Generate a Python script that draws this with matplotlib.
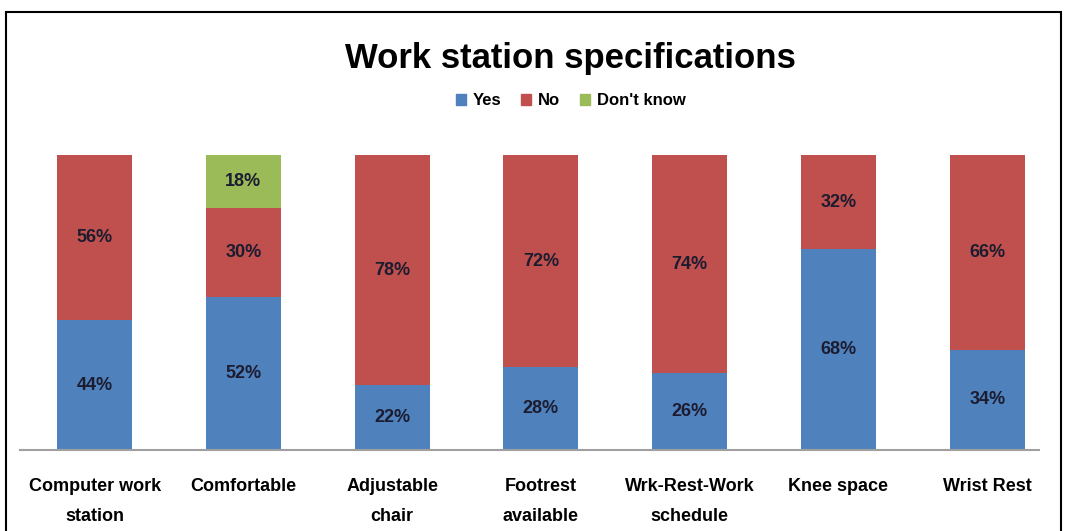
import matplotlib.pyplot as plt
from matplotlib.patches import Rectangle, Patch
import numpy as np

plt.rcParams['font.family'] = ['Liberation Sans', 'DejaVu Sans']

categories = ['Computer work\nstation', 'Comfortable', 'Adjustable\nchair', 'Footrest\navailable',
              'Wrk-Rest-Work\nschedule', 'Knee space', 'Wrist Rest']
yes = [44, 52, 22, 28, 26, 68, 34]
no = [56, 30, 78, 72, 74, 32, 66]
dont_know = [0, 18, 0, 0, 0, 0, 0]

series = [('Yes', yes, '#4F81BD'), ('No', no, '#C0504D'), ("Don't know", dont_know, '#9BBB59')]

fig = plt.figure(figsize=(10.67, 5.31), dpi=100)
ax = fig.add_axes([0.019, 0.1525, 0.955, 0.5556])

x = np.arange(len(categories))
bottom = np.zeros(len(categories))
for name, vals, color in series:
    vals = np.array(vals, dtype=float)
    bars = ax.bar(x, vals, 0.505, bottom=bottom, color=color, label=name)
    for b, v, b0 in zip(bars, vals, bottom):
        if v > 0:
            ax.text(b.get_x() + b.get_width() / 2, b0 + v / 2, f'{int(v)}%',
                    ha='center', va='center', fontsize=13, fontweight='bold', color='#1c1c30')
    bottom += vals

ax.set_xlim(-0.5, 6.35)
ax.set_ylim(0, 100)
ax.set_xticks(x)
ax.set_xticklabels(categories, fontsize=13, fontweight='bold', linespacing=2.0, va='top')
ax.tick_params(axis='x', length=0, pad=20)
ax.set_yticks([])
for side in ['top', 'right', 'left']:
    ax.spines[side].set_visible(False)
ax.spines['bottom'].set_color('#a0a0a0')
ax.spines['bottom'].set_linewidth(1.5)

fig.text(0.535, 0.89, 'Work station specifications', ha='center', va='center',
         fontsize=25, fontweight='bold')
handles = [Patch(color=c, label=n) for n, _, c in series]
fig.legend(handles=handles, loc='center', bbox_to_anchor=(0.535, 0.81), ncol=3,
           frameon=False, handlelength=0.6, handleheight=0.7,
           handletextpad=0.4, columnspacing=1.2, prop={'weight': 'bold', 'size': 12})

# outer frame
fig.patches.append(Rectangle((0.006, -0.05), 0.988, 1.027, transform=fig.transFigure,
                             fill=False, edgecolor='black', linewidth=1.5))

fig.savefig('out.png', dpi=100)
